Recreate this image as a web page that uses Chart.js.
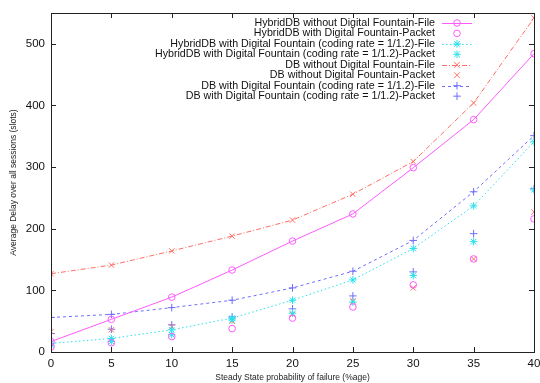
<!DOCTYPE html>
<html>
<head>
<meta charset="utf-8">
<script src="https://cdn.jsdelivr.net/npm/chart.js@4/dist/chart.umd.min.js"></script>
<style>
  html, body { margin: 0; padding: 0; background: #fff; }
  #wrap { width: 540px; height: 383px; }
</style>
</head>
<body>
<div id="wrap"><canvas id="delay"></canvas></div>
<script>
// failure probability (%age) on the x axis
var failurePct = [0, 5, 10, 15, 20, 25, 30, 35, 40];

// average delay (slots)
var hybridNoDfFile   = [17, 53, 89, 133, 180, 224, 299, 377, 484];
var hybridNoDfPacket = [8, 15, 25, 38, 55, 73, 109, 151, 216];
var hybridDfFile     = [14, 22, 36, 55, 84, 117, 168, 237, 341];
var hybridDfPacket   = [11, 17, 28, 52, 63, 81, 124, 179, 263];
var dbNoDfFile       = [127, 141, 164, 188, 214, 256, 309, 404, 542];
var dbNoDfPacket     = [33, 36, 41, 50, 61, 83, 104, 151, 227];
var dbDfFile         = [56, 61, 72, 84, 104, 131, 181, 260, 351];
var dbDfPacket       = [30, 37, 44, 57, 70, 91, 130, 192, 265];

var xTicks = [0, 5, 10, 15, 20, 25, 30, 35, 40];
var yTicks = [0, 100, 200, 300, 400, 500];

var seriesLabels = [
    "HybridDB without Digital Fountain-File",
    "HybridDB with Digital Fountain-Packet",
    "HybridDB with Digital Fountain (coding rate = 1/1.2)-File",
    "HybridDB with Digital Fountain (coding rate = 1/1.2)-Packet",
    "DB without Digital Fountain-File",
    "DB without Digital Fountain-Packet",
    "DB with Digital Fountain (coding rate = 1/1.2)-File",
    "DB with Digital Fountain (coding rate = 1/1.2)-Packet"
];
var seriesValues = [hybridNoDfFile, hybridNoDfPacket, hybridDfFile, hybridDfPacket,
                    dbNoDfFile, dbNoDfPacket, dbDfFile, dbDfPacket];

var MAGENTA = "rgb(255,90,255)";
var CYAN = "rgb(40,225,235)";
var RED = "rgb(255,110,100)";
var BLUE = "rgb(110,110,255)";

var styles = [
    { color: MAGENTA, marker: "circle", line: true, dash: [] },
    { color: MAGENTA, marker: "circle", line: false, dash: [] },
    { color: CYAN, marker: "star", line: true, dash: [1.5, 2.5] },
    { color: CYAN, marker: "star", line: false, dash: [] },
    { color: RED, marker: "crossRot", line: true, dash: [5, 2, 1, 2] },
    { color: RED, marker: "crossRot", line: false, dash: [] },
    { color: BLUE, marker: "cross", line: true, dash: [3, 3] },
    { color: BLUE, marker: "cross", line: false, dash: [] }
];

var datasets = [];
for (var i = 0; i < seriesLabels.length; i++) {
    var s = styles[i];
    datasets.push({
        label: seriesLabels[i],
        data: failurePct.map(function (x, k) { return { x: x, y: seriesValues[i][k] }; }),
        borderColor: s.color,
        backgroundColor: "transparent",
        borderWidth: 1,
        borderDash: s.dash,
        showLine: s.line,
        tension: 0,
        pointStyle: s.marker,
        pointRadius: s.marker == "circle" ? 3.3 : 3.8,
        pointBorderWidth: 1,
        pointBorderColor: s.color,
        pointBackgroundColor: "transparent"
    });
}

// small marker drawer for the legend samples
function marker(ctx, type, x, y, r) {
    ctx.beginPath();
    if (type == "circle") {
        ctx.arc(x, y, r, 0, Math.PI * 2);
    } else {
        var d = r * 0.75;
        if (type == "cross" || type == "star") {
            ctx.moveTo(x - r, y); ctx.lineTo(x + r, y);
            ctx.moveTo(x, y - r); ctx.lineTo(x, y + r);
        }
        if (type == "crossRot" || type == "star") {
            ctx.moveTo(x - d, y - d); ctx.lineTo(x + d, y + d);
            ctx.moveTo(x - d, y + d); ctx.lineTo(x + d, y - d);
        }
    }
    ctx.stroke();
}

var framePlugin = {
    id: "frame",
    afterDraw: function (chart) {
        var ctx = chart.ctx;
        var a = chart.chartArea;
        var xs = chart.scales.x, ys = chart.scales.y;
        ctx.save();
        ctx.strokeStyle = "#222";
        ctx.lineWidth = 1;
        ctx.setLineDash([]);
        ctx.strokeRect(Math.round(a.left) + 0.5, Math.round(a.top) + 0.5,
                       Math.round(a.right - a.left), Math.round(a.bottom - a.top));
        // inward ticks on all four sides
        ctx.beginPath();
        xTicks.forEach(function (v) {
            var px = Math.round(xs.getPixelForValue(v)) + 0.5;
            ctx.moveTo(px, a.bottom); ctx.lineTo(px, a.bottom - 5);
            ctx.moveTo(px, a.top); ctx.lineTo(px, a.top + 5);
        });
        yTicks.forEach(function (v) {
            var py = Math.round(ys.getPixelForValue(v)) + 0.5;
            ctx.moveTo(a.left, py); ctx.lineTo(a.left + 5, py);
            ctx.moveTo(a.right, py); ctx.lineTo(a.right - 5, py);
        });
        ctx.stroke();

        // legend: text right-aligned, sample to its right
        ctx.font = "10.7px 'Liberation Sans', Arial, sans-serif";
        ctx.textAlign = "right";
        ctx.textBaseline = "middle";
        var textRight = 435, sx0 = 442, sx1 = 472;
        for (var i = 0; i < chart.data.datasets.length; i++) {
            var ds = chart.data.datasets[i];
            var y = 23 + i * 10.45;
            ctx.fillStyle = "#111";
            ctx.fillText(ds.label, textRight, y);
            ctx.strokeStyle = ds.borderColor;
            ctx.lineWidth = 1;
            if (ds.showLine) {
                ctx.setLineDash(ds.borderDash);
                ctx.beginPath();
                ctx.moveTo(sx0, Math.round(y) + 0.5);
                ctx.lineTo(sx1, Math.round(y) + 0.5);
                ctx.stroke();
            }
            ctx.setLineDash([]);
            marker(ctx, ds.pointStyle, (sx0 + sx1) / 2, y, ds.pointStyle == "circle" ? 3.3 : 3.8);
        }
        ctx.restore();
    }
};

var ctx = document.getElementById("delay").getContext("2d");
var chart = new Chart(ctx, {
    type: "scatter",
    data: { datasets: datasets },
    options: {
        responsive: true,
        maintainAspectRatio: false,
        animation: false,
        layout: { padding: { top: 13, right: 6, left: 0, bottom: 0 } },
        plugins: {
            legend: { display: false },
            tooltip: { enabled: false }
        },
        scales: {
            x: {
                type: "linear",
                min: 0,
                max: 40,
                grid: { display: false, drawTicks: false },
                border: { display: false },
                afterBuildTicks: function (scale) {
                    scale.ticks = xTicks.map(function (v) { return { value: v }; });
                },
                afterFit: function (scale) {
                    scale.height = 31;
                    scale.paddingLeft = 0;
                    scale.paddingRight = 0;
                },
                ticks: {
                    color: "#111",
                    padding: 5,
                    maxRotation: 0,
                    font: { family: "'Liberation Sans', Arial, sans-serif", size: 11.5 }
                },
                title: {
                    display: true,
                    text: "Steady State probability of failure (%age)",
                    color: "#222",
                    padding: { top: 3, bottom: 0 },
                    font: { family: "'Liberation Sans', Arial, sans-serif", size: 8.5 }
                }
            },
            y: {
                type: "linear",
                min: 0,
                max: 550,
                grid: { display: false, drawTicks: false },
                border: { display: false },
                afterBuildTicks: function (scale) {
                    scale.ticks = yTicks.map(function (v) { return { value: v }; });
                },
                afterFit: function (scale) {
                    scale.width = 51;
                    scale.paddingTop = 0;
                    scale.paddingBottom = 0;
                },
                ticks: {
                    color: "#111",
                    padding: 6,
                    font: { family: "'Liberation Sans', Arial, sans-serif", size: 11.5 }
                },
                title: {
                    display: true,
                    text: "Average Delay over all sessions (slots)",
                    color: "#222",
                    padding: { top: 9, bottom: 0 },
                    font: { family: "'Liberation Sans', Arial, sans-serif", size: 8.5 }
                }
            }
        }
    },
    plugins: [framePlugin]
});
</script>
</body>
</html>
